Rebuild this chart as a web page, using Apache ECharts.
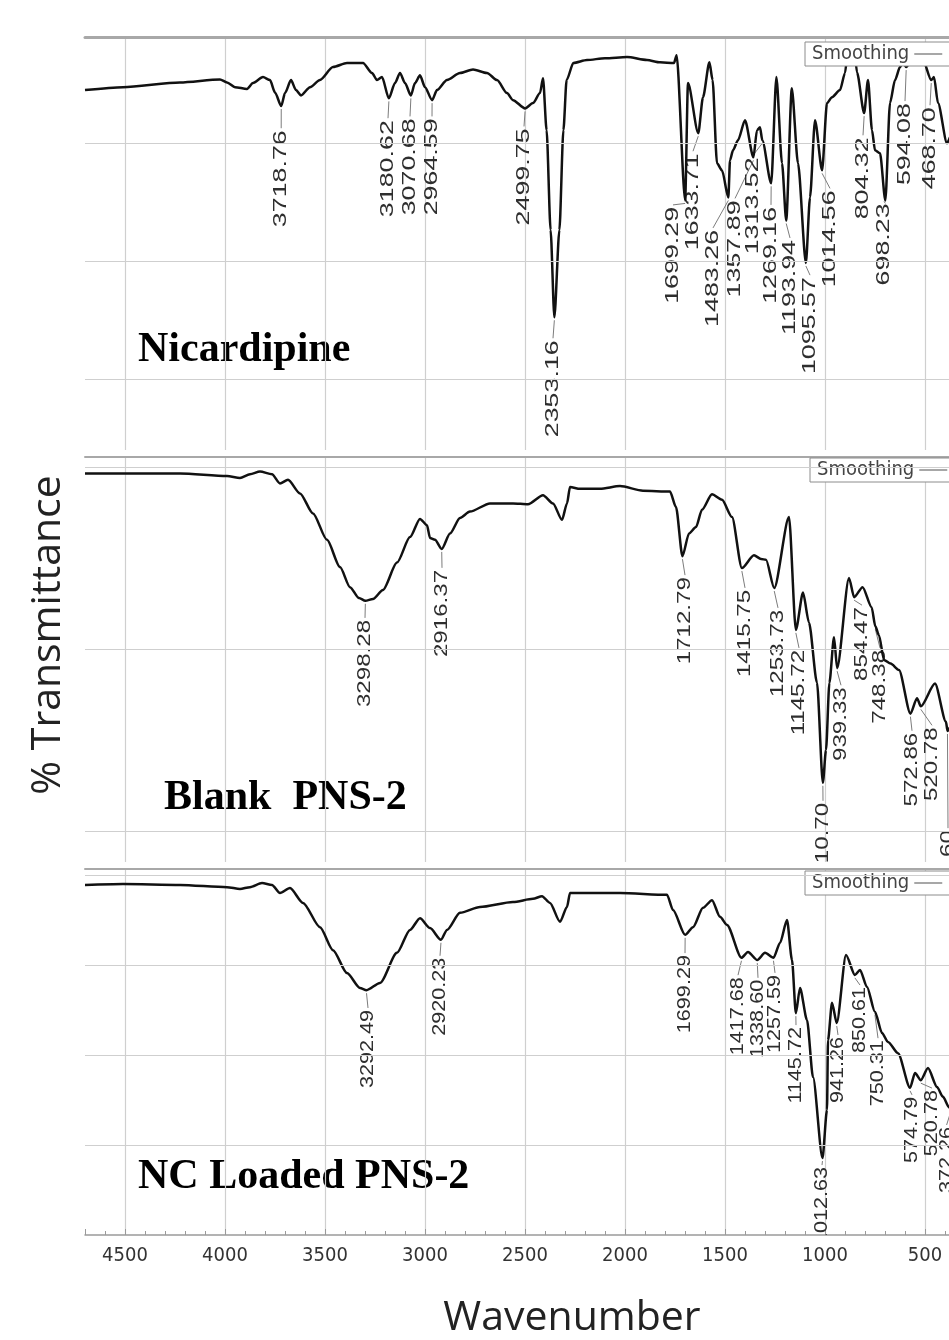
<!DOCTYPE html>
<html>
<head>
<meta charset="utf-8">
<title>FTIR spectra</title>
<script src="https://cdn.jsdelivr.net/npm/echarts@6/dist/echarts.min.js"></script>
<style>
  html, body { margin: 0; padding: 0; background: #fff; }
  #chart { width: 949px; height: 1340px; }
</style>
</head>
<body>
<div id="chart"></div>
<script>
// spectra: [wavenumber cm-1, % transmittance]
const nicardipine = [
  [4700, 89.0], [4510, 89.5], [4225, 90.3], [4025, 90.8], [3990, 90.3], [3950, 89.5],
  [3890, 89.2], [3860, 90.2], [3810, 91.2], [3775, 90.7], [3750, 88.6], [3718.76, 86.3],
  [3700, 88.5], [3670, 90.7], [3645, 89.0], [3620, 88.1], [3575, 89.5], [3525, 90.7],
  [3460, 92.9], [3390, 93.6], [3310, 93.6], [3265, 91.9], [3240, 90.7], [3215, 91.2],
  [3180.62, 87.6], [3150, 90.2], [3125, 91.9], [3100, 90.2], [3070.68, 88.1], [3050, 90.2],
  [3025, 91.5], [3000, 89.5], [2964.59, 87.3], [2940, 89.0], [2890, 90.7], [2825, 91.9],
  [2760, 92.5], [2690, 91.9], [2640, 90.7], [2590, 88.5], [2560, 87.3], [2499.75, 85.9],
  [2460, 86.8], [2425, 88.5], [2410, 91.0], [2392, 82.2], [2372, 65.3], [2353.16, 50.5],
  [2328, 65.3], [2308, 82.2], [2292, 90.7], [2258, 93.6], [2190, 94.1], [2100, 94.4],
  [1990, 94.6], [1890, 94.1], [1825, 93.7], [1755, 93.6], [1742, 94.9], [1699.29, 70.3],
  [1685, 90.2], [1633.71, 81.7], [1610, 87.8], [1578, 93.7], [1562, 90.7], [1540, 76.6],
  [1515, 75.4], [1483.26, 70.8], [1475, 77.1], [1460, 78.8], [1435, 80.5], [1400, 83.9],
  [1357.89, 77.6], [1340, 82.2], [1325, 82.7], [1313.52, 80.5], [1269.16, 73.2], [1243, 91.2],
  [1215, 76.6], [1193.94, 66.9], [1166, 89.3], [1135, 76.6], [1095.57, 59.7], [1075, 70.8],
  [1050, 83.9], [1014.56, 75.4], [990, 86.8], [965, 87.8], [925, 89.0], [900, 91.9],
  [885, 95.8], [870, 97.0], [855, 96.5], [840, 92.0], [804.32, 85.1], [785, 90.7],
  [765, 82.2], [750, 78.8], [725, 78.3], [698.23, 70.3], [675, 86.8], [650, 90.7],
  [625, 92.9], [610, 93.7], [594.08, 92.9], [560, 94.6], [510, 94.1], [468.70, 90.7],
  [455, 91.2], [435, 86.8], [390, 80.0], [375, 81.0]
];

const blankPns2 = [
  [4700, 79.3], [4510, 79.3], [4225, 79.3], [3990, 79.0], [3925, 78.8], [3875, 79.2],
  [3825, 79.5], [3765, 79.2], [3725, 78.2], [3685, 78.6], [3625, 77.1], [3560, 74.9],
  [3490, 72.0], [3425, 69.0], [3375, 66.8], [3330, 65.6], [3298.28, 65.3], [3260, 65.5],
  [3210, 66.5], [3140, 69.5], [3075, 72.3], [3025, 74.3], [2990, 73.6], [2975, 72.2],
  [2950, 72.0], [2916.37, 71.0], [2875, 72.7], [2825, 74.4], [2775, 75.1], [2675, 76.0],
  [2560, 76.0], [2485, 75.9], [2410, 76.9], [2360, 76.0], [2315, 74.2], [2290, 76.0],
  [2275, 77.8], [2225, 77.6], [2125, 77.6], [2025, 77.9], [1910, 77.4], [1775, 77.3],
  [1745, 75.6], [1712.79, 70.2], [1680, 72.7], [1645, 73.4], [1615, 75.3], [1565, 77.0],
  [1515, 76.4], [1465, 74.5], [1415.75, 68.9], [1355, 70.3], [1320, 69.9], [1295, 69.8],
  [1253.73, 66.7], [1180, 74.5], [1145.72, 62.1], [1110, 66.2], [1080, 62.9], [1040, 56.3],
  [1010.70, 45.3], [995, 48.9], [978, 56.3], [955, 61.3], [939.33, 57.9], [880, 67.8],
  [854.47, 65.7], [812, 66.8], [767, 64.6], [748.38, 62.5], [730, 61.5], [705, 58.8],
  [672, 58.4], [630, 57.7], [572.86, 52.9], [540, 54.6], [520.78, 53.7], [450, 56.2],
  [395, 52.0], [387.60, 51.0], [375, 51.4]
];

const ncLoadedPns2 = [
  [4700, 77.8], [4510, 78.0], [4225, 77.8], [3990, 77.3], [3925, 76.9], [3875, 77.3],
  [3815, 78.2], [3765, 77.8], [3725, 76.0], [3675, 77.1], [3610, 73.8], [3525, 68.4],
  [3460, 63.3], [3390, 58.2], [3325, 54.9], [3292.49, 54.4], [3225, 56.0], [3140, 62.7],
  [3075, 67.8], [3025, 70.4], [2975, 68.2], [2920.23, 65.6], [2890, 67.8], [2825, 71.6],
  [2725, 72.9], [2560, 74.0], [2460, 74.7], [2415, 75.3], [2375, 73.8], [2325, 69.6],
  [2290, 72.9], [2275, 76.0], [2225, 76.0], [2125, 76.0], [2025, 76.0], [1790, 75.6],
  [1760, 72.2], [1699.29, 66.7], [1660, 68.4], [1610, 72.7], [1565, 74.4], [1525, 70.7],
  [1490, 68.9], [1417.68, 61.6], [1385, 62.9], [1338.60, 61.1], [1300, 62.7], [1257.59, 61.6],
  [1225, 64.9], [1190, 70.0], [1165, 61.1], [1145.72, 49.3], [1125, 54.9], [1090, 47.8],
  [1060, 35.1], [1012.63, 17.1], [990, 27.8], [985, 43.3], [965, 51.6], [941.26, 47.1],
  [895, 62.2], [850.61, 57.8], [825, 58.9], [790, 55.1], [750.31, 49.6], [715, 44.9],
  [685, 42.9], [635, 40.4], [574.79, 32.7], [550, 36.0], [520.78, 34.4], [485, 37.1],
  [440, 32.9], [410, 30.7], [380, 28.4], [372.26, 27.9]
];

// picked peaks: [wavenumber, %T at the dip]
const nicardipinePeaks = [
  [3718.76, 86.3], [3180.62, 87.6], [3070.68, 88.1], [2964.59, 87.3], [2499.75, 85.9],
  [2353.16, 50.5], [1699.29, 70.3], [1633.71, 81.7], [1483.26, 70.8], [1357.89, 77.6],
  [1313.52, 80.5], [1269.16, 73.2], [1193.94, 66.9], [1095.57, 59.7], [1014.56, 75.4],
  [804.32, 85.1], [698.23, 70.3], [594.08, 92.9], [468.70, 90.7]
];
const blankPeaks = [
  [3298.28, 65.3], [2916.37, 71.0], [1712.79, 70.2], [1415.75, 68.9], [1253.73, 66.7],
  [1145.72, 62.1], [1010.70, 45.3], [939.33, 57.9], [854.47, 65.7], [748.38, 62.5],
  [572.86, 52.9], [520.78, 53.7], [387.60, 51.0]
];
const loadedPeaks = [
  [3292.49, 54.4], [2920.23, 65.6], [1699.29, 66.7], [1417.68, 61.6], [1338.60, 61.1],
  [1257.59, 61.6], [1145.72, 49.3], [1012.63, 17.1], [941.26, 47.1], [850.61, 57.8],
  [750.31, 49.6], [574.79, 32.7], [520.78, 34.4], [372.26, 27.9]
];

// where the upper end of each rotated peak label sits, in the same data units
const nicardipineLabelAt = [
  [3719, 82.2], [3185, 83.9], [3075, 84.2], [2965, 84.2], [2505, 82.5],
  [2360, 46.6], [1760, 69.2], [1660, 78.3], [1560, 65.3], [1450, 70.3],
  [1360, 77.6], [1270, 69.2], [1175, 63.6], [1075, 57.3], [975, 72.0],
  [810, 81.0], [705, 69.8], [600, 86.8], [475, 86.1]
];
const blankLabelAt = [
  [3300, 63.2], [2915, 68.7], [1700, 67.9], [1400, 66.5], [1235, 64.3],
  [1130, 59.9], [1010, 43.1], [920, 55.8], [815, 64.6], [725, 59.9],
  [565, 50.8], [465, 51.4], [385, 40.1]
];
const loadedLabelAt = [
  [3285, 50.0], [2925, 61.6], [1700, 62.2], [1435, 57.3], [1335, 56.7],
  [1250, 57.8], [1145, 46.2], [1015, 15.1], [935, 44.0], [825, 55.1],
  [735, 43.3], [565, 30.7], [465, 32.2], [392, 24.0]
];

// horizontal grid levels (%T) in each panel
const nicardipineLevels = [40, 60, 80];
const blankLevels = [40, 60, 80];
const loadedLevels = [20, 40, 60, 80];

const wnMin = 0;
const wnMax = 4700;
const wnStep = 500;

// layout of the three stacked panels (pixels)
const panels = [
  { data: nicardipine, peaks: nicardipinePeaks, labelAt: nicardipineLabelAt, levels: nicardipineLevels,
    top: 37, height: 413, yMin: 28, yMax: 98, frameWidth: 3, textScale: 1.49, legendLeft: 805, legendTop: 42 },
  { data: blankPns2, peaks: blankPeaks, labelAt: blankLabelAt, levels: blankLevels,
    top: 457, height: 405, yMin: 36.6, yMax: 81.1, frameWidth: 2, textScale: 1.34, legendLeft: 810, legendTop: 458 },
  { data: ncLoadedPns2, peaks: loadedPeaks, labelAt: loadedLabelAt, levels: loadedLevels,
    top: 869, height: 366, yMin: 0, yMax: 81.33, frameWidth: 2, textScale: 1.2, legendLeft: 805, legendTop: 871 }
];

const gridColor = '#cfcfcf';
const narrowFont = "'Liberation Sans Narrow', 'DejaVu Sans Condensed', 'Liberation Sans', sans-serif";

function peakLabels(scale) {
  return function (params, api) {
    const p = api.coord([api.value(0), api.value(1)]);
    const a = api.coord([api.value(2), api.value(3)]);
    return {
      type: 'group',
      children: [
        {
          type: 'line',
          shape: { x1: p[0], y1: p[1] + 3, x2: a[0], y2: a[1] - 2 },
          style: { stroke: '#7c7c7c', lineWidth: 1 }
        },
        {
          type: 'text',
          x: a[0],
          y: a[1],
          rotation: Math.PI / 2,
          scaleX: scale,
          style: {
            text: api.value(0).toFixed(2),
            fontFamily: 'Liberation Sans',
            fontSize: 18,
            fill: '#2e2e2e',
            align: 'right',
            verticalAlign: 'middle'
          }
        }
      ]
    };
  };
}

const grid = [];
const xAxis = [];
const yAxis = [];
const series = [];
const legend = [];

panels.forEach((pn, i) => {
  const last = i === panels.length - 1;
  grid.push({ left: 85, right: -76, top: pn.top, height: pn.height, containLabel: false, outerBoundsMode: 'none' });

  xAxis.push({
    type: 'value', gridIndex: i, min: wnMin, max: wnMax, interval: wnStep, inverse: true,
    position: 'bottom',
    axisLine: { show: last, onZero: false, lineStyle: { color: '#9a9a9a', width: 1.5 } },
    axisTick: { show: last, inside: true, length: 6, lineStyle: { color: '#9a9a9a' } },
    minorTick: { show: last, splitNumber: 5, length: 4, lineStyle: { color: '#9a9a9a' } },
    axisLabel: {
      show: last, showMaxLabel: false, margin: 11,
      formatter: v => String(v),
      fontFamily: narrowFont, fontSize: 20, color: '#333'
    },
    splitLine: { show: true, showMaxLine: false, lineStyle: { color: gridColor, width: 1.2 } }
  });
  // frame line on top of each panel
  xAxis.push({
    type: 'value', gridIndex: i, min: wnMin, max: wnMax, inverse: true, position: 'top',
    axisLine: { show: true, onZero: false, lineStyle: { color: '#a8a8a8', width: pn.frameWidth } },
    axisTick: { show: false }, axisLabel: { show: false }, splitLine: { show: false }
  });

  yAxis.push({ type: 'value', gridIndex: i, min: pn.yMin, max: pn.yMax, show: false, splitLine: { show: false } });

  series.push({
    name: 'Smoothing',
    type: 'line',
    xAxisIndex: 2 * i,
    yAxisIndex: i,
    data: pn.data,
    showSymbol: false,
    smooth: 0.25,
    smoothMonotone: 'x',
    lineStyle: { color: '#111', width: 2.5 },
    itemStyle: { color: '#111' },
    markLine: {
      silent: true,
      symbol: ['none', 'none'],
      label: { show: false },
      lineStyle: { color: gridColor, width: 1.2, type: 'solid' },
      data: pn.levels.map(v => ({ yAxis: v }))
    }
  });

  series.push({
    name: 'peaks' + i,
    type: 'custom',
    xAxisIndex: 2 * i,
    yAxisIndex: i,
    clip: true,
    z: 3,
    data: pn.peaks.map((pk, k) => [pk[0], pk[1], pn.labelAt[k][0], pn.labelAt[k][1]]),
    encode: { x: 0, y: 1 },
    renderItem: peakLabels(pn.textScale)
  });

  legend.push({
    data: ['Smoothing'],
    left: pn.legendLeft,
    top: pn.legendTop,
    align: 'right',
    selectedMode: false,
    icon: 'rect',
    itemWidth: 28,
    itemHeight: 1.5,
    padding: [2, 34, 2, 7],
    backgroundColor: '#fff',
    borderColor: '#8c8c8c',
    borderWidth: 1,
    itemStyle: { color: '#8a8a8a' },
    textStyle: { fontFamily: narrowFont, fontSize: 20, color: '#444' }
  });
});

const serifTitle = { fontFamily: 'Liberation Serif', fontWeight: 'bold', fontSize: 42, fill: '#000', align: 'left', verticalAlign: 'middle' };

const option = {
  animation: false,
  backgroundColor: '#fff',
  textStyle: { fontFamily: 'Liberation Sans' },
  grid,
  xAxis,
  yAxis,
  legend,
  series,
  graphic: [
    { type: 'text', x: 138, y: 350, style: Object.assign({ text: 'Nicardipine' }, serifTitle) },
    { type: 'text', x: 164, y: 798, style: Object.assign({ text: 'Blank  PNS-2' }, serifTitle) },
    { type: 'text', x: 138, y: 1177, style: Object.assign({ text: 'NC Loaded PNS-2' }, serifTitle) },
    {
      type: 'text', x: 48, y: 635, rotation: Math.PI / 2,
      style: { text: '% Transmittance', fontFamily: 'Open Sans', fontSize: 41, fill: '#222', align: 'center', verticalAlign: 'middle' }
    },
    {
      type: 'text', x: 572, y: 1318,
      style: { text: 'Wavenumber', fontFamily: 'Open Sans', fontSize: 41, fill: '#222', align: 'center', verticalAlign: 'middle' }
    }
  ]
};

const chart = echarts.init(document.getElementById('chart'));
chart.setOption(option);
</script>
</body>
</html>
